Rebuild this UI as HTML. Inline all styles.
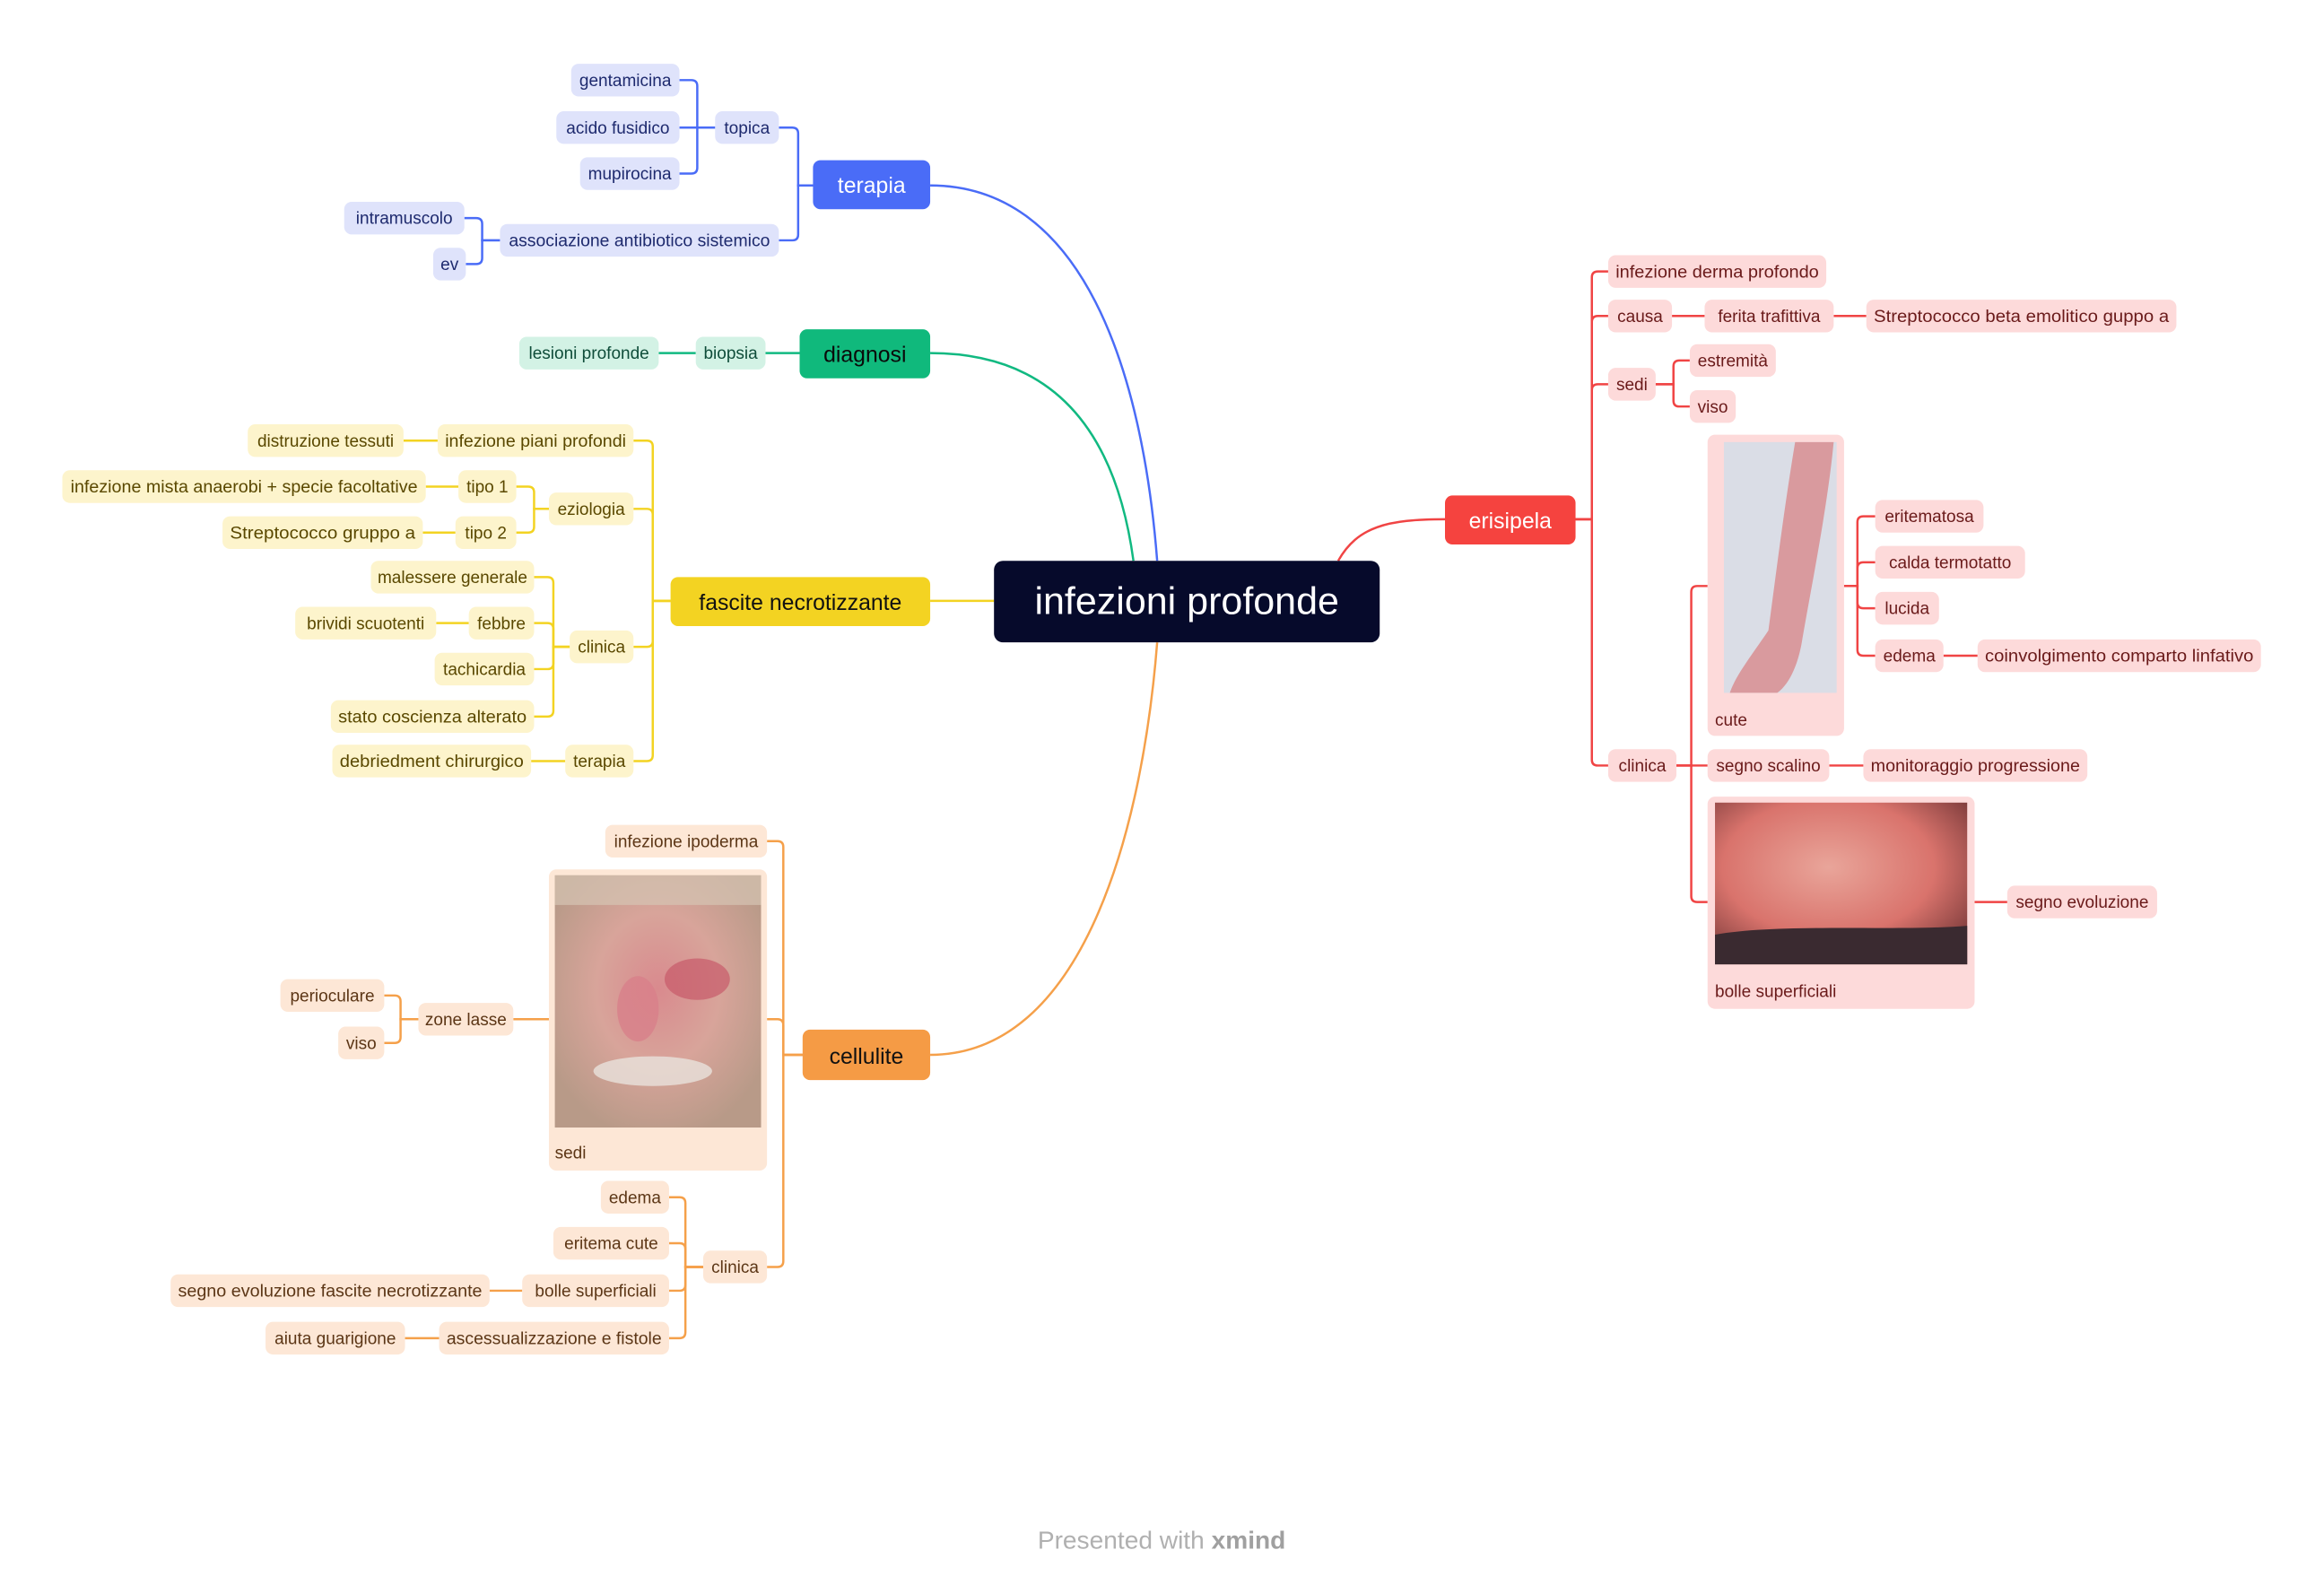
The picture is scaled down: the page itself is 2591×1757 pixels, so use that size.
<!DOCTYPE html>
<html><head><meta charset="utf-8"><style>
html,body{margin:0;padding:0;background:#fff;}
svg{display:block;font-family:"Liberation Sans",sans-serif;}
.n text{font-size:11.5px;text-anchor:middle;}
.b rect{fill:#dfe3fb}.b text{fill:#1e2a6e}
.g rect{fill:#d3f2e5}.g text{fill:#0f4d3a}
.y rect{fill:#fdf4cc}.y text{fill:#5a4800}
.o rect{fill:#fde7d6}.o text{fill:#5c3616}
.r rect{fill:#fddada}.r text{fill:#6a1a1a}
.l{fill:none;stroke-width:1.5}
.lab{font-size:11.5px;text-anchor:start}
</style></head><body>
<svg width="2591" height="1757" viewBox="0 0 1566.5 1062.3" preserveAspectRatio="none" xmlns="http://www.w3.org/2000/svg">
<defs>
<radialGradient id="face" cx="0.5" cy="0.45" r="0.6"><stop offset="0" stop-color="#d98a8e"/><stop offset="0.5" stop-color="#d8a49a"/><stop offset="1" stop-color="#b89a88"/></radialGradient>
<radialGradient id="bol" cx="0.45" cy="0.4" r="0.7"><stop offset="0" stop-color="#e9a59a"/><stop offset="0.6" stop-color="#d9736c"/><stop offset="1" stop-color="#7a3a3a"/></radialGradient>
</defs>
<path class="l" stroke="#4a6cf7" stroke-width="2" d="M780,378 C770,250 730,125 627,125"/>
<path class="l" stroke="#11b981" stroke-width="2" d="M764,378 C752,290 710,238 627,238"/>
<path class="l" stroke="#f3d322" stroke-width="2" d="M627,405 H670"/>
<path class="l" stroke="#f5a04a" stroke-width="2" d="M780,433 C770,560 730,711 627,711"/>
<path class="l" stroke="#f04444" stroke-width="2" d="M902,378 C915,355 935,350 974,350"/>

<g class="l" stroke="#4a6cf7">
<path d="M548,125 H538 V90 Q538,86 534,86 H525"/>
<path d="M548,125 H538 V158 Q538,162 534,162 H525"/>
<path d="M482,86 H470 V58 Q470,54 466,54 H458"/>
<path d="M482,86 H458"/>
<path d="M482,86 H470 V113 Q470,117 466,117 H458"/>
<path d="M337,162 H325 V151 Q325,147 321,147 H313"/>
<path d="M337,162 H325 V174 Q325,178 321,178 H314"/>
</g>
<g class="l" stroke="#11b981"><path d="M539,238 H516"/><path d="M469,238 H444"/></g>
<g class="l" stroke="#f3d322">
<path d="M452,405 H440 V301 Q440,297 436,297 H427"/>
<path d="M452,405 H440 V347 Q440,343 436,343 H427"/>
<path d="M452,405 H440 V432 Q440,436 436,436 H427"/>
<path d="M452,405 H440 V509 Q440,513 436,513 H427"/>
<path d="M295,297 H272"/>
<path d="M370,343 H360 V332 Q360,328 356,328 H348"/>
<path d="M370,343 H360 V355 Q360,359 356,359 H348"/>
<path d="M309,328 H287"/><path d="M307,359 H285"/>
<path d="M384,436 H373 V393 Q373,389 369,389 H360"/>
<path d="M384,436 H373 V424 Q373,420 369,420 H360"/>
<path d="M384,436 H373 V447 Q373,451 369,451 H360"/>
<path d="M384,436 H373 V479 Q373,483 369,483 H360"/>
<path d="M316,420 H294"/><path d="M381,513 H358"/>
</g>
<g class="l" stroke="#f5a04a">
<path d="M541,711 H528 V571 Q528,567 524,567 H517"/>
<path d="M541,711 H528 V691 Q528,687 524,687 H517"/>
<path d="M541,711 H528 V850 Q528,854 524,854 H517"/>
<path d="M370,687 H346"/>
<path d="M282,687 H270 V675 Q270,671 266,671 H259"/>
<path d="M282,687 H270 V699 Q270,703 266,703 H259"/>
<path d="M474,854 H462 V811 Q462,807 458,807 H451"/>
<path d="M474,854 H462 V842 Q462,838 458,838 H451"/>
<path d="M474,854 H462 V866 Q462,870 458,870 H451"/>
<path d="M474,854 H462 V898 Q462,902 458,902 H451"/>
<path d="M352,870 H330"/><path d="M296,902 H273"/>
</g>
<g class="l" stroke="#f04444">
<path d="M1062,350 H1073 V187 Q1073,183 1077,183 H1084"/>
<path d="M1062,350 H1073 V217 Q1073,213 1077,213 H1084"/>
<path d="M1062,350 H1073 V263 Q1073,259 1077,259 H1084"/>
<path d="M1062,350 H1073 V512 Q1073,516 1077,516 H1084"/>
<path d="M1127,213 H1149"/><path d="M1236,213 H1258"/>
<path d="M1116,259 H1128 V247 Q1128,243 1132,243 H1139"/>
<path d="M1116,259 H1128 V270 Q1128,274 1132,274 H1139"/>
<path d="M1130,516 H1140 V399 Q1140,395 1144,395 H1151"/>
<path d="M1130,516 H1151"/>
<path d="M1130,516 H1140 V604 Q1140,608 1144,608 H1151"/>
<path d="M1233,516 H1256"/>
<path d="M1243,395 H1252 V352 Q1252,348 1256,348 H1264"/>
<path d="M1243,395 H1252 V383 Q1252,379 1256,379 H1264"/>
<path d="M1243,395 H1252 V406 Q1252,410 1256,410 H1264"/>
<path d="M1243,395 H1252 V438 Q1252,442 1256,442 H1264"/>
<path d="M1310,442 H1333"/><path d="M1331,608 H1353"/>
</g>

<rect x="670" y="378" width="260" height="55" rx="6" fill="#060a2b"/>
<text x="800" y="414" font-size="26" fill="#fff" text-anchor="middle">infezioni profonde</text>
<rect x="548" y="108" width="79" height="33" rx="5" fill="#4a6cf7"/>
<text x="587.5" y="130" font-size="15" fill="#fff" text-anchor="middle">terapia</text>
<rect x="539" y="222" width="88" height="33" rx="5" fill="#10b97c"/>
<text x="583" y="244" font-size="15" fill="#0a0a0a" text-anchor="middle">diagnosi</text>
<rect x="452" y="389" width="175" height="33" rx="5" fill="#f3d322"/>
<text x="539.5" y="411" font-size="15" fill="#111" text-anchor="middle">fascite necrotizzante</text>
<rect x="541" y="694" width="86" height="34" rx="5" fill="#f59b45"/>
<text x="584" y="717" font-size="15" fill="#111" text-anchor="middle">cellulite</text>
<rect x="974" y="334" width="88" height="33" rx="5" fill="#f5433f"/>
<text x="1018" y="356" font-size="15" fill="#fff" text-anchor="middle">erisipela</text>

<g class="n b">
<rect x="385" y="43" width="73" height="22" rx="5"/><text x="421.5" y="58">gentamicina</text>
<rect x="375" y="75" width="83" height="22" rx="5"/><text x="416.5" y="90">acido fusidico</text>
<rect x="391" y="106" width="67" height="22" rx="5"/><text x="424.5" y="121">mupirocina</text>
<rect x="482" y="75" width="43" height="22" rx="5"/><text x="503.5" y="90">topica</text>
<rect x="232" y="136" width="81" height="22" rx="5"/><text x="272.5" y="151">intramuscolo</text>
<rect x="292" y="167" width="22" height="22" rx="5"/><text x="303" y="182">ev</text>
<rect x="337" y="151" width="188" height="22" rx="5"/><text x="431" y="166" textLength="176" lengthAdjust="spacingAndGlyphs">associazione antibiotico sistemico</text>
</g>
<g class="n g">
<rect x="469" y="227" width="47" height="22" rx="5"/><text x="492.5" y="242">biopsia</text>
<rect x="350" y="227" width="94" height="22" rx="5"/><text x="397" y="242">lesioni profonde</text>
</g>
<g class="n y">
<rect x="295" y="286" width="132" height="22" rx="5"/><text x="361" y="301" textLength="122" lengthAdjust="spacingAndGlyphs">infezione piani profondi</text>
<rect x="167" y="286" width="105" height="22" rx="5"/><text x="219.5" y="301">distruzione tessuti</text>
<rect x="370" y="332" width="57" height="22" rx="5"/><text x="398.5" y="347">eziologia</text>
<rect x="309" y="317" width="39" height="22" rx="5"/><text x="328.5" y="332">tipo 1</text>
<rect x="307" y="348" width="41" height="22" rx="5"/><text x="327.5" y="363">tipo 2</text>
<rect x="42" y="317" width="245" height="22" rx="5"/><text x="164.5" y="332" textLength="234" lengthAdjust="spacingAndGlyphs">infezione mista anaerobi + specie facoltative</text>
<rect x="150" y="348" width="135" height="22" rx="5"/><text x="217.5" y="363" textLength="125" lengthAdjust="spacingAndGlyphs">Streptococco gruppo a</text>
<rect x="384" y="425" width="43" height="22" rx="5"/><text x="405.5" y="440">clinica</text>
<rect x="250" y="378" width="110" height="22" rx="5"/><text x="305" y="393">malessere generale</text>
<rect x="316" y="409" width="44" height="22" rx="5"/><text x="338" y="424">febbre</text>
<rect x="199" y="409" width="95" height="22" rx="5"/><text x="246.5" y="424">brividi scuotenti</text>
<rect x="293" y="440" width="67" height="22" rx="5"/><text x="326.5" y="455">tachicardia</text>
<rect x="223" y="472" width="137" height="22" rx="5"/><text x="291.5" y="487" textLength="127" lengthAdjust="spacingAndGlyphs">stato coscienza alterato</text>
<rect x="381" y="502" width="46" height="22" rx="5"/><text x="404" y="517">terapia</text>
<rect x="224" y="502" width="134" height="22" rx="5"/><text x="291" y="517" textLength="124" lengthAdjust="spacingAndGlyphs">debriedment chirurgico</text>
</g>
<g class="n o">
<rect x="408" y="556" width="109" height="22" rx="5"/><text x="462.5" y="571">infezione ipoderma</text>
<rect x="282" y="676" width="64" height="22" rx="5"/><text x="314" y="691">zone lasse</text>
<rect x="189" y="660" width="70" height="22" rx="5"/><text x="224" y="675">perioculare</text>
<rect x="228" y="692" width="31" height="22" rx="5"/><text x="243.5" y="707">viso</text>
<rect x="474" y="843" width="43" height="22" rx="5"/><text x="495.5" y="858">clinica</text>
<rect x="405" y="796" width="46" height="22" rx="5"/><text x="428" y="811">edema</text>
<rect x="373" y="827" width="78" height="22" rx="5"/><text x="412" y="842">eritema cute</text>
<rect x="352" y="859" width="99" height="22" rx="5"/><text x="401.5" y="874">bolle superficiali</text>
<rect x="115" y="859" width="215" height="22" rx="5"/><text x="222.5" y="874" textLength="205" lengthAdjust="spacingAndGlyphs">segno evoluzione fascite necrotizzante</text>
<rect x="296" y="891" width="155" height="22" rx="5"/><text x="373.5" y="906" textLength="145" lengthAdjust="spacingAndGlyphs">ascessualizzazione e fistole</text>
<rect x="179" y="891" width="94" height="22" rx="5"/><text x="226" y="906">aiuta guarigione</text>
<rect x="370" y="586" width="147" height="203" rx="5"/>
</g>
<rect x="374" y="590" width="139" height="170" fill="url(#face)"/>
<rect x="374" y="590" width="139" height="20" fill="#d6c4b4" opacity="0.7"/>
<ellipse cx="470" cy="660" rx="22" ry="14" fill="#c85a6a" opacity="0.7"/>
<ellipse cx="430" cy="680" rx="14" ry="22" fill="#d87f8a" opacity="0.8"/>
<ellipse cx="440" cy="722" rx="40" ry="10" fill="#e8e2dc" opacity="0.8"/>
<text class="lab" x="374" y="781" fill="#5c3616">sedi</text>

<g class="n r">
<rect x="1084" y="172" width="147" height="22" rx="5"/><text x="1157.5" y="187" textLength="137" lengthAdjust="spacingAndGlyphs">infezione derma profondo</text>
<rect x="1084" y="202" width="43" height="22" rx="5"/><text x="1105.5" y="217">causa</text>
<rect x="1149" y="202" width="87" height="22" rx="5"/><text x="1192.5" y="217">ferita trafittiva</text>
<rect x="1258" y="202" width="209" height="22" rx="5"/><text x="1362.5" y="217" textLength="199" lengthAdjust="spacingAndGlyphs">Streptococco beta emolitico guppo a</text>
<rect x="1084" y="248" width="32" height="22" rx="5"/><text x="1100" y="263">sedi</text>
<rect x="1139" y="232" width="58" height="22" rx="5"/><text x="1168" y="247">estremità</text>
<rect x="1139" y="263" width="31" height="22" rx="5"/><text x="1154.5" y="278">viso</text>
<rect x="1084" y="505" width="46" height="22" rx="5"/><text x="1107" y="520">clinica</text>
<rect x="1151" y="505" width="82" height="22" rx="5"/><text x="1192" y="520">segno scalino</text>
<rect x="1256" y="505" width="151" height="22" rx="5"/><text x="1331.5" y="520" textLength="141" lengthAdjust="spacingAndGlyphs">monitoraggio progressione</text>
<rect x="1264" y="337" width="73" height="22" rx="5"/><text x="1300.5" y="352">eritematosa</text>
<rect x="1264" y="368" width="101" height="22" rx="5"/><text x="1314.5" y="383">calda termotatto</text>
<rect x="1264" y="399" width="43" height="22" rx="5"/><text x="1285.5" y="414">lucida</text>
<rect x="1264" y="431" width="46" height="22" rx="5"/><text x="1287" y="446">edema</text>
<rect x="1333" y="431" width="191" height="22" rx="5"/><text x="1428.5" y="446" textLength="181" lengthAdjust="spacingAndGlyphs">coinvolgimento comparto linfativo</text>
<rect x="1353" y="597" width="101" height="22" rx="5"/><text x="1403.5" y="612">segno evoluzione</text>
<rect x="1151" y="293" width="92" height="203" rx="5"/>
<rect x="1151" y="537" width="180" height="143" rx="5"/>
</g>
<rect x="1162" y="298" width="76" height="169" fill="#dadde6"/>
<path d="M1210,298 L1236,298 C1232,340 1222,390 1215,430 C1212,450 1205,462 1198,467 L1166,467 C1170,455 1182,440 1192,425 C1198,380 1203,340 1210,298 Z" fill="#d99a9e"/>
<text class="lab" x="1156" y="489" fill="#6a1a1a">cute</text>
<rect x="1156" y="541" width="170" height="109" fill="url(#bol)"/>
<path d="M1156,630 C1200,622 1280,628 1326,624 L1326,650 L1156,650 Z" fill="#3a2a30"/>
<text class="lab" x="1156" y="672" fill="#6a1a1a">bolle superficiali</text>

<text x="783" y="1044" font-size="17" fill="#b0b0b0" text-anchor="middle">Presented with <tspan font-weight="bold" fill="#a0a0a0">xmind</tspan></text>
</svg>
</body></html>
